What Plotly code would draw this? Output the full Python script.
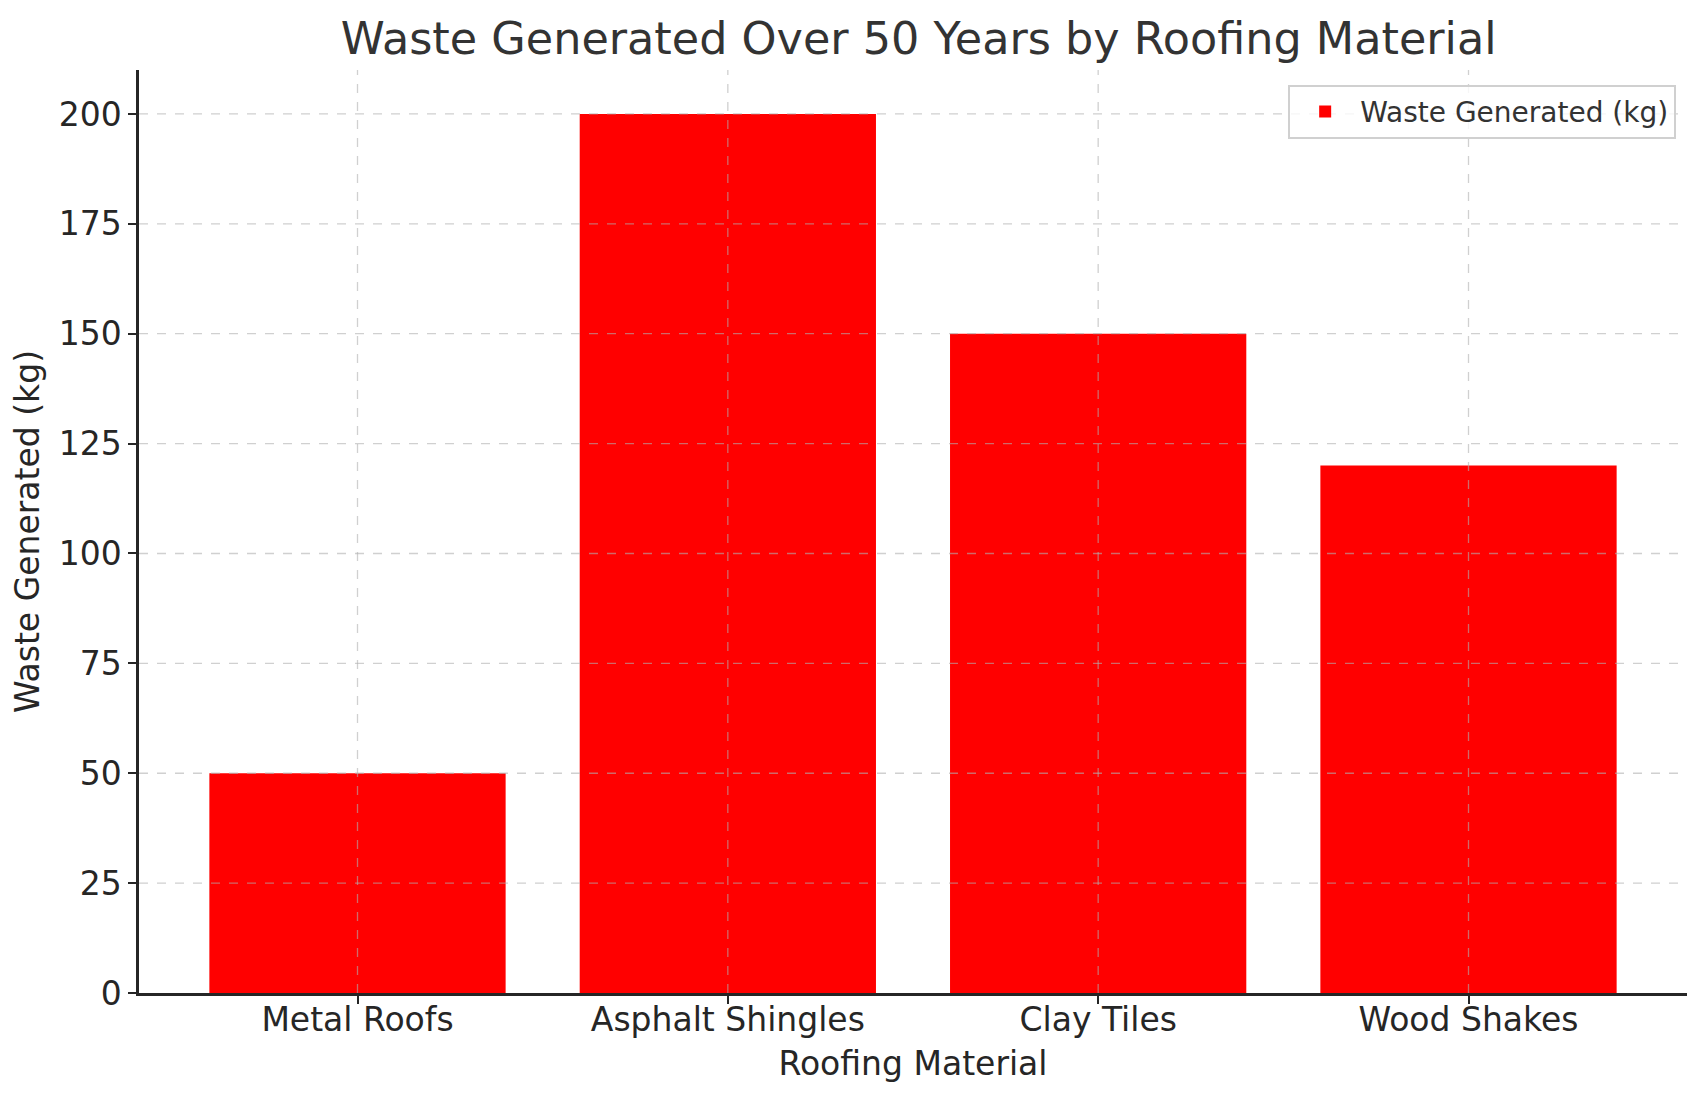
import plotly.graph_objects as go

# data
materials = ["Metal Roofs", "Asphalt Shingles", "Clay Tiles", "Wood Shakes"]
waste_kg = [50, 200, 150, 120]
y_ticks = [0, 25, 50, 75, 100, 125, 150, 175, 200]

font_family = "DejaVu Sans"
grid_color = "rgba(176,176,176,0.6)"

fig = go.Figure()
fig.add_trace(go.Bar(x=materials, y=waste_kg, name="Waste Generated (kg)",
                     marker=dict(color="#ff0000", line=dict(width=0)), width=0.8))

# dashed grid drawn over the bars, like the original
for m in materials:
    fig.add_shape(type="line", xref="x", yref="paper", x0=m, x1=m, y0=0, y1=1,
                  line=dict(color=grid_color, width=1.3, dash="dash"), layer="above")
for t in y_ticks[1:]:
    fig.add_shape(type="line", xref="paper", yref="y", x0=0, x1=1, y0=t, y1=t,
                  line=dict(color=grid_color, width=1.3, dash="dash"), layer="above")

fig.update_layout(
    width=1707, height=1101,
    margin=dict(l=131, r=28, t=62, b=116),
    paper_bgcolor="white", plot_bgcolor="white",
    font=dict(family=font_family, color="#262626"),
    title=dict(text="Waste Generated Over 50 Years by Roofing Material",
               x=0.5335, xanchor="center", y=0.972, yanchor="middle",
               font=dict(size=44.5, color="#333333")),
    showlegend=True,
    legend=dict(x=0.993, xanchor="right", y=0.984, yanchor="top",
                bordercolor="#d0d0d0", borderwidth=2, bgcolor="rgba(255,255,255,0.8)",
                font=dict(size=28, color="#333333"), itemwidth=60),
    bargap=0.2,
)
fig.update_xaxes(
    title=dict(text="Roofing Material", font=dict(size=33), standoff=14),
    tickfont=dict(size=33), range=[-0.59, 3.59],
    showline=True, linecolor="#262626", linewidth=2.5,
    ticks="outside", ticklen=8, tickwidth=2, tickcolor="#262626",
    ticklabelstandoff=-12,
    showgrid=False, zeroline=False,
)
fig.update_yaxes(
    title=dict(text="Waste Generated (kg)", font=dict(size=33), standoff=12),
    tickfont=dict(size=33), range=[0, 210], tickvals=y_ticks,
    showline=True, linecolor="#262626", linewidth=2.5,
    ticks="outside", ticklen=8, tickwidth=2, tickcolor="#262626",
    showgrid=False, zeroline=False,
)

fig.write_html("out.html")
